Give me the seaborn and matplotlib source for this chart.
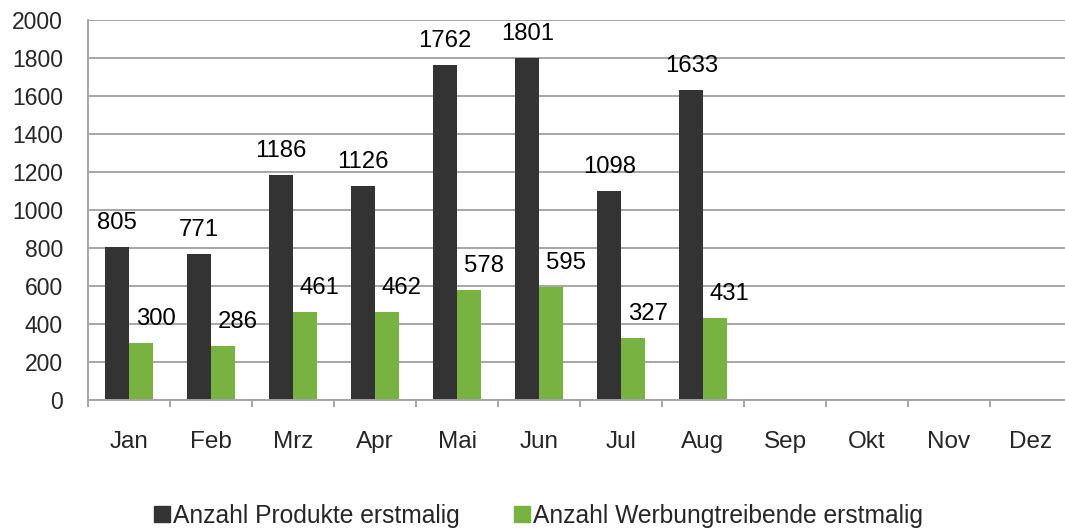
import matplotlib
matplotlib.use("Agg")
import matplotlib.pyplot as plt
import seaborn as sns
import pandas as pd
import numpy as np
from matplotlib.lines import Line2D

months = ["Jan", "Feb", "Mrz", "Apr", "Mai", "Jun", "Jul", "Aug", "Sep", "Okt", "Nov", "Dez"]
data_months = ["Jan", "Feb", "Mrz", "Apr", "Mai", "Jun", "Jul", "Aug"]
produkte = [805, 771, 1186, 1126, 1762, 1801, 1098, 1633]
werbung = [300, 286, 461, 462, 578, 595, 327, 431]
series_names = ["Anzahl Produkte erstmalig", "Anzahl Werbungtreibende erstmalig"]
colors = ["#333333", "#78b241"]
yticks = list(range(0, 2001, 200))

df = pd.DataFrame({
    "Monat": data_months * 2,
    "Wert": produkte + werbung,
    "Serie": [series_names[0]] * len(produkte) + [series_names[1]] * len(werbung),
})

sns.set_theme(style="white")
plt.rcParams["font.family"] = ["Liberation Sans", "DejaVu Sans"]

fig = plt.figure(figsize=(10.65, 5.28), dpi=100)
W, H = 1065, 528
ax = fig.add_axes([88 / W, 1 - 400 / H, (1072 - 88) / W, (400 - 20) / H])

sns.barplot(data=df, x="Monat", y="Wert", hue="Serie", order=months,
            hue_order=series_names, palette=colors, width=0.575,
            saturation=1, ax=ax, legend=False, linewidth=0)

ax.set_ylim(0, 2000)
ax.set_xlim(-0.5, len(months) - 0.5)
ax.set_yticks(yticks)
ax.set_yticklabels([str(v) for v in yticks])
ax.set_xlabel("")
ax.set_ylabel("")
ax.yaxis.grid(True, color="#a6a6a6", linewidth=1.4)
ax.set_axisbelow(True)
for s in ["top", "right"]:
    ax.spines[s].set_visible(False)
for s in ["left", "bottom"]:
    ax.spines[s].set_color("#a6a6a6")
    ax.spines[s].set_linewidth(1.4)
ax.tick_params(axis="y", length=6, width=1.4, color="#a6a6a6", pad=12, labelsize=16.5)
ax.set_xticks(range(len(months)))
ax.set_xticklabels(months)
ax.set_xticks(np.arange(-0.5, len(months), 1), minor=True)
ax.tick_params(axis="x", which="major", length=0, pad=22, labelsize=17.5)
ax.tick_params(axis="x", which="minor", length=5, width=1.4, color="#a6a6a6", bottom=True)

offsets = [0, 15]
for cont, dx in zip(ax.containers, offsets):
    for bar in cont:
        h = bar.get_height()
        if h is None or np.isnan(h) or h == 0:
            continue
        ax.annotate(f"{int(round(h))}", (bar.get_x() + bar.get_width() / 2, h),
                    xytext=(dx, 13), textcoords="offset pixels",
                    ha="center", va="bottom", fontsize=17.2, color="black")

handles = [Line2D([0], [0], marker="s", linestyle="none", markersize=11,
                  markerfacecolor=c, markeredgecolor=c) for c in colors]
fig.legend(handles, series_names, loc="center", bbox_to_anchor=(538 / W, 1 - 516 / H),
           ncol=2, frameon=False, fontsize=17.7, handletextpad=0.1,
           columnspacing=2.2, handlelength=0.7)

fig.savefig("out.png", dpi=100)
